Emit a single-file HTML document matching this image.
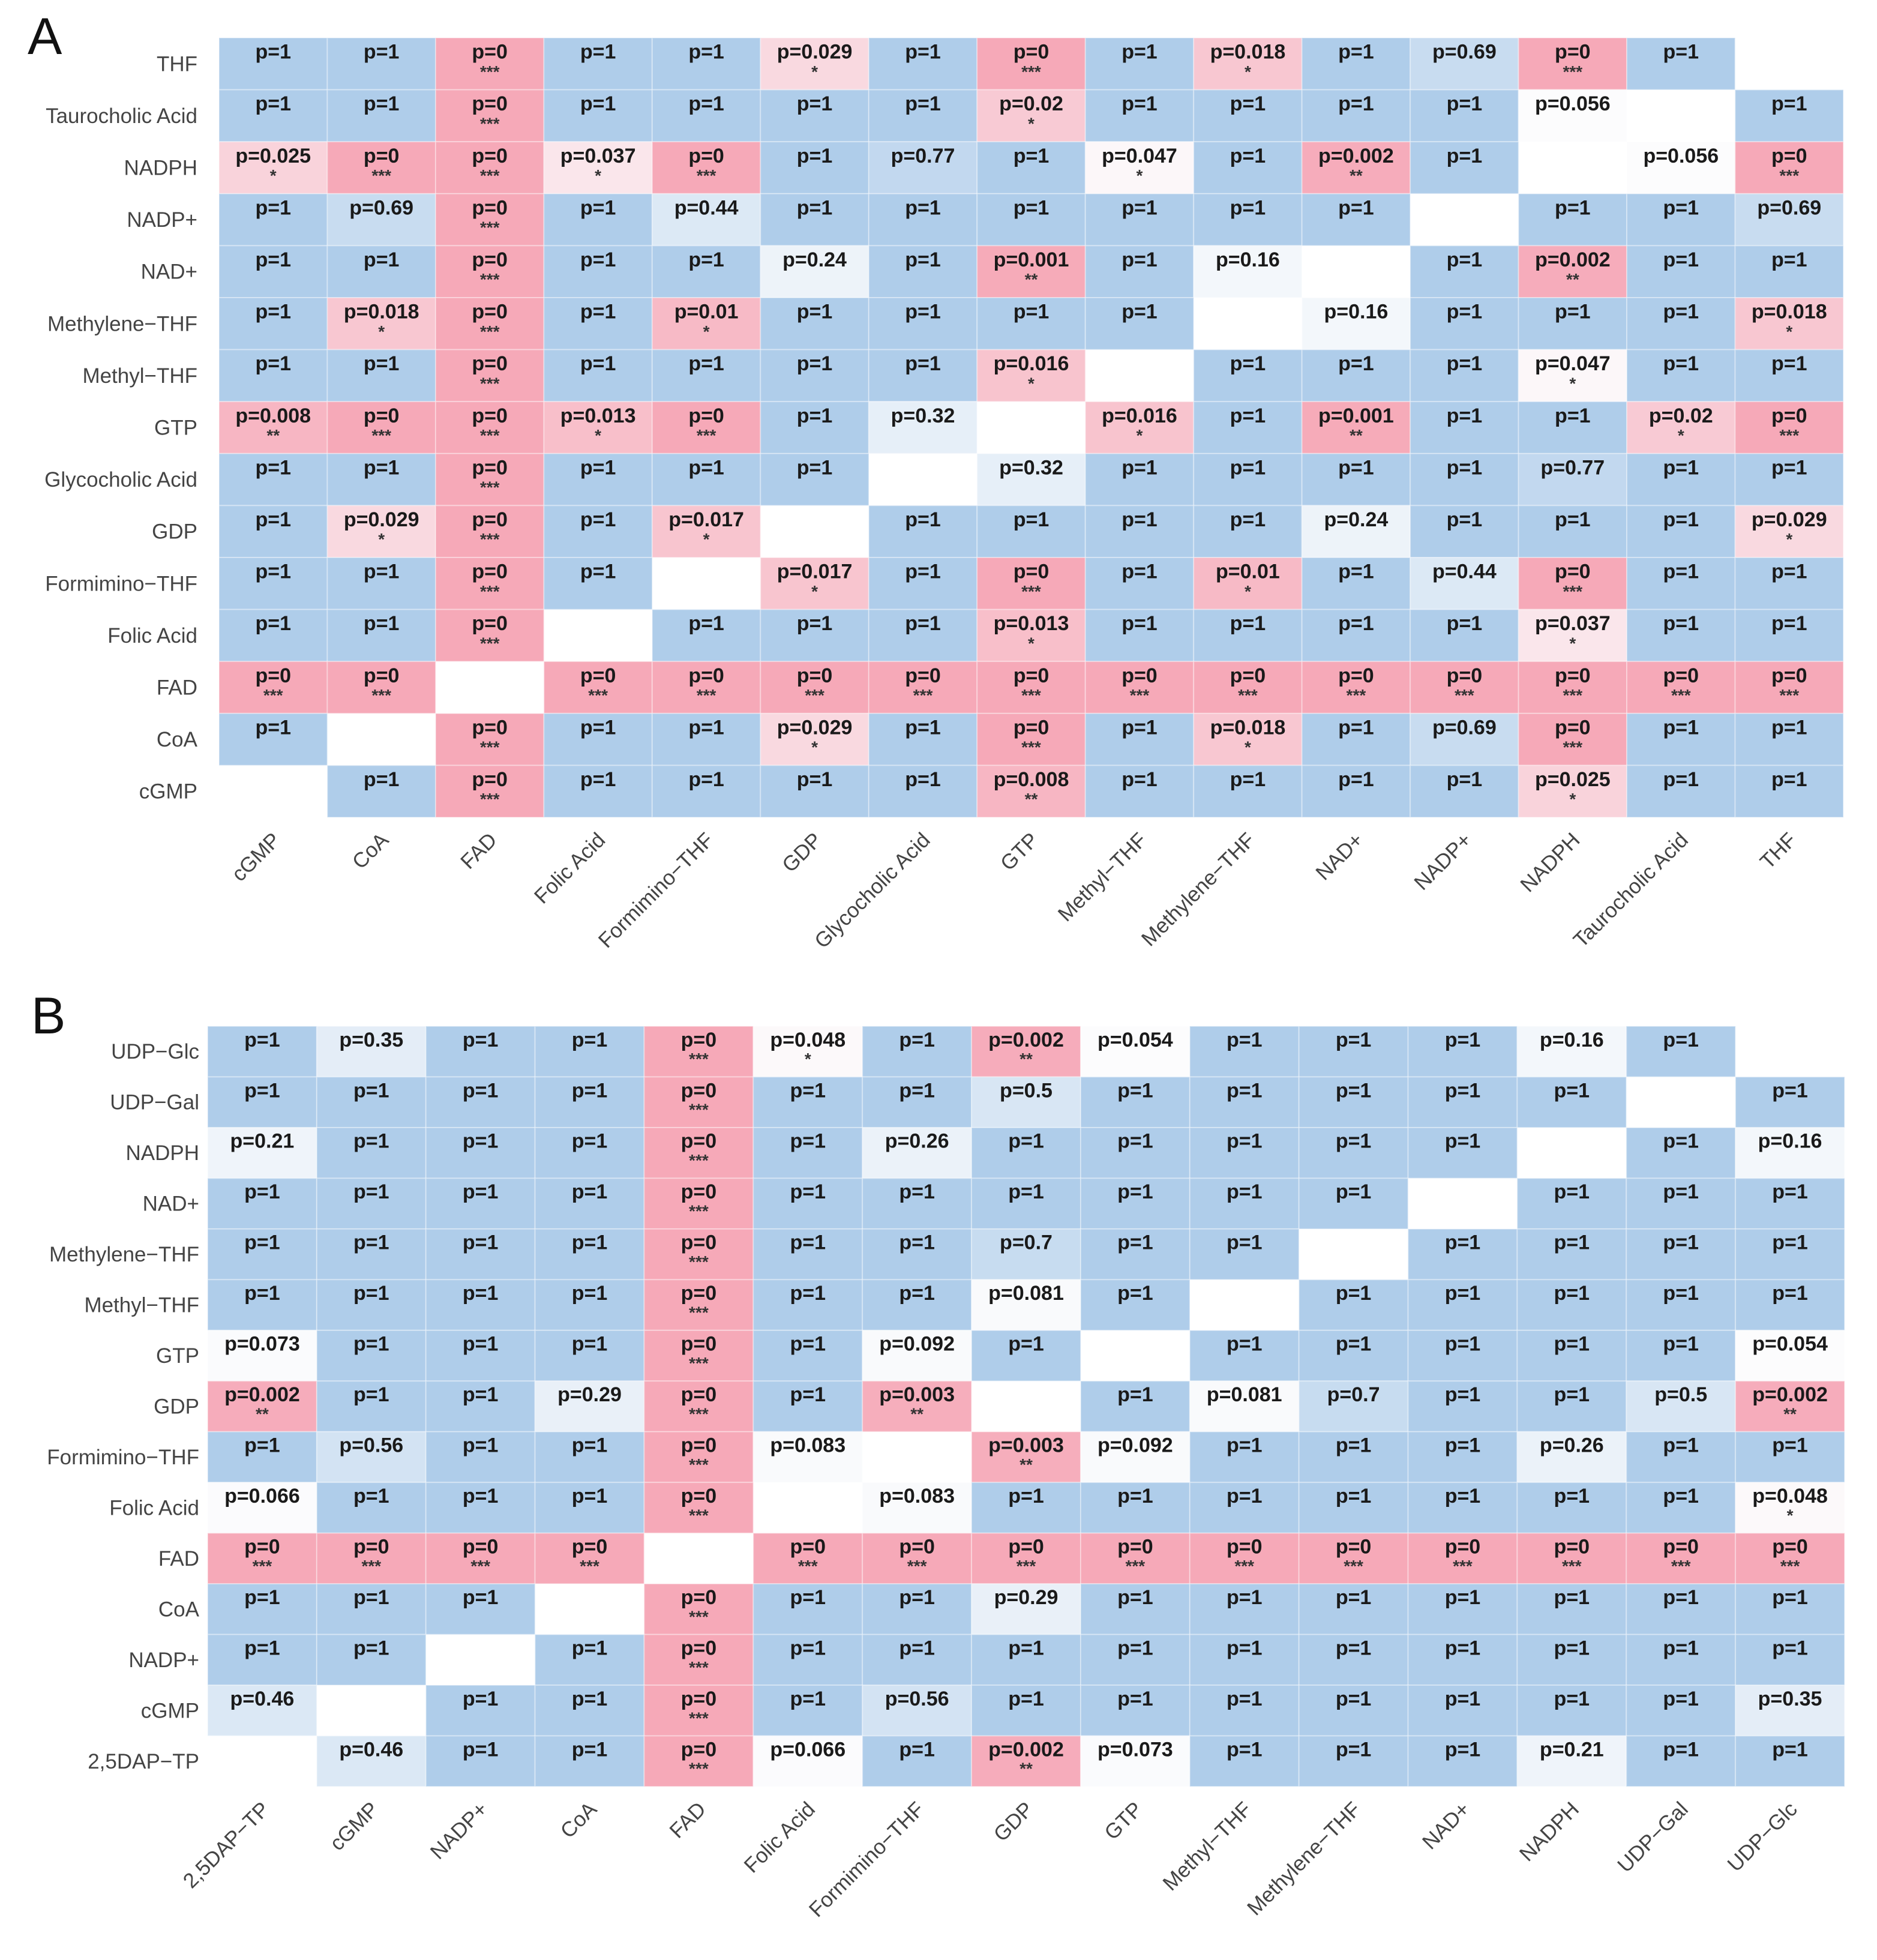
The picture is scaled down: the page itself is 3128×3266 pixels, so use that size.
<!DOCTYPE html>
<html><head><meta charset="utf-8"><style>
html,body{margin:0;padding:0;background:#fff;}
svg{display:block;}
</style></head>
<body>
<svg id="fig" width="3128" height="3266" viewBox="0 0 3128 3266" xmlns="http://www.w3.org/2000/svg">
<text x="46" y="90" font-family="Liberation Sans, sans-serif" font-size="86" fill="#111">A</text>
<text x="52" y="1722" font-family="Liberation Sans, sans-serif" font-size="86" fill="#111">B</text>
<g id="panelA"></g>
<g id="panelB"></g>
</svg>
<script>
const N = null;
const categoriesA = ["cGMP","CoA","FAD","Folic Acid","Formimino\u2212THF","GDP","Glycocholic Acid","GTP","Methyl\u2212THF","Methylene\u2212THF","NAD+","NADP+","NADPH","Taurocholic Acid","THF"];
const rowsA = ["THF","Taurocholic Acid","NADPH","NADP+","NAD+","Methylene\u2212THF","Methyl\u2212THF","GTP","Glycocholic Acid","GDP","Formimino\u2212THF","Folic Acid","FAD","CoA","cGMP"];
const pvalsA = [
[1,1,0,1,1,0.029,1,0,1,0.018,1,0.69,0,1,N],
[1,1,0,1,1,1,1,0.02,1,1,1,1,0.056,N,1],
[0.025,0,0,0.037,0,1,0.77,1,0.047,1,0.002,1,N,0.056,0],
[1,0.69,0,1,0.44,1,1,1,1,1,1,N,1,1,0.69],
[1,1,0,1,1,0.24,1,0.001,1,0.16,N,1,0.002,1,1],
[1,0.018,0,1,0.01,1,1,1,1,N,0.16,1,1,1,0.018],
[1,1,0,1,1,1,1,0.016,N,1,1,1,0.047,1,1],
[0.008,0,0,0.013,0,1,0.32,N,0.016,1,0.001,1,1,0.02,0],
[1,1,0,1,1,1,N,0.32,1,1,1,1,0.77,1,1],
[1,0.029,0,1,0.017,N,1,1,1,1,0.24,1,1,1,0.029],
[1,1,0,1,N,0.017,1,0,1,0.01,1,0.44,0,1,1],
[1,1,0,N,1,1,1,0.013,1,1,1,1,0.037,1,1],
[0,0,N,0,0,0,0,0,0,0,0,0,0,0,0],
[1,N,0,1,1,0.029,1,0,1,0.018,1,0.69,0,1,1],
[N,1,0,1,1,1,1,0.008,1,1,1,1,0.025,1,1]
];
const categoriesB = ["2,5DAP\u2212TP","cGMP","NADP+","CoA","FAD","Folic Acid","Formimino\u2212THF","GDP","GTP","Methyl\u2212THF","Methylene\u2212THF","NAD+","NADPH","UDP\u2212Gal","UDP\u2212Glc"];
const rowsB = ["UDP\u2212Glc","UDP\u2212Gal","NADPH","NAD+","Methylene\u2212THF","Methyl\u2212THF","GTP","GDP","Formimino\u2212THF","Folic Acid","FAD","CoA","NADP+","cGMP","2,5DAP\u2212TP"];
const pvalsB = [
[1,0.35,1,1,0,0.048,1,0.002,0.054,1,1,1,0.16,1,N],
[1,1,1,1,0,1,1,0.5,1,1,1,1,1,N,1],
[0.21,1,1,1,0,1,0.26,1,1,1,1,1,N,1,0.16],
[1,1,1,1,0,1,1,1,1,1,1,N,1,1,1],
[1,1,1,1,0,1,1,0.7,1,1,N,1,1,1,1],
[1,1,1,1,0,1,1,0.081,1,N,1,1,1,1,1],
[0.073,1,1,1,0,1,0.092,1,N,1,1,1,1,1,0.054],
[0.002,1,1,0.29,0,1,0.003,N,1,0.081,0.7,1,1,0.5,0.002],
[1,0.56,1,1,0,0.083,N,0.003,0.092,1,1,1,0.26,1,1],
[0.066,1,1,1,0,N,0.083,1,1,1,1,1,1,1,0.048],
[0,0,0,0,N,0,0,0,0,0,0,0,0,0,0],
[1,1,1,N,0,1,1,0.29,1,1,1,1,1,1,1],
[1,1,N,1,0,1,1,1,1,1,1,1,1,1,1],
[0.46,N,1,1,0,1,0.56,1,1,1,1,1,1,1,0.35],
[N,0.46,1,1,0,0.066,1,0.002,0.073,1,1,1,0.21,1,1]
];

const SVGNS = "http://www.w3.org/2000/svg";
function mix(a,b,t){return a.map((v,i)=>Math.round(v+(b[i]-v)*t));}
function colorFor(p){
  const white=[252,252,253], blue=[175,205,234], pink=[246,169,184];
  let c;
  if(p>=0.05){c=mix(white,blue,Math.min(1,(p-0.05)/0.95));}
  else {c=mix(white,pink,Math.min(1,(0.05-p)/0.05));}
  return "rgb("+c.join(",")+")";
}
function stars(p){ if(p<0.001) return "***"; if(p<0.01) return "**"; if(p<0.05) return "*"; return ""; }
function fmt(p){ return "p=" + String(p); }

function draw(gid, cats, rows, vals, box){
  const g = document.getElementById(gid);
  const nC = cats.length, nR = rows.length;
  const cw = (box.x1-box.x0)/nC, rh = (box.y1-box.y0)/nR;
  const xs = i => box.x0 + i*cw;
  const ys = j => box.y0 + j*rh;
  for(let j=0;j<nR;j++){
    for(let i=0;i<nC;i++){
      const p = vals[j][i];
      if(p===null) continue;
      const r = document.createElementNS(SVGNS,"rect");
      r.setAttribute("x", xs(i)); r.setAttribute("y", ys(j));
      r.setAttribute("width", cw); r.setAttribute("height", rh);
      r.setAttribute("fill", colorFor(p));
      r.setAttribute("stroke","#ffffff"); r.setAttribute("stroke-opacity","0.35"); r.setAttribute("stroke-width","2");
      
      
      g.appendChild(r);
      const t = document.createElementNS(SVGNS,"text");
      t.setAttribute("x", xs(i)+cw/2); t.setAttribute("y", ys(j)+rh*0.40);
      t.setAttribute("text-anchor","middle");
      t.setAttribute("font-family","Liberation Sans, sans-serif");
      t.setAttribute("font-size","34"); t.setAttribute("font-weight","bold");
      t.setAttribute("fill","#1a1a1a");
      t.textContent = fmt(p);
      
      
      g.appendChild(t);
      const s = stars(p);
      if(s){
        const st = document.createElementNS(SVGNS,"text");
        st.setAttribute("x", xs(i)+cw/2); st.setAttribute("y", ys(j)+rh*0.76);
        st.setAttribute("text-anchor","middle");
        st.setAttribute("font-family","Liberation Sans, sans-serif");
        st.setAttribute("font-size","28"); st.setAttribute("font-weight","bold");
        st.setAttribute("fill","#333");
        st.textContent = s;
        
        
        g.appendChild(st);
      }
    }
  }
  for(let j=0;j<nR;j++){
    const t = document.createElementNS(SVGNS,"text");
    t.setAttribute("x", box.x0 - box.labGap); t.setAttribute("y", ys(j)+rh/2+12);
    t.setAttribute("text-anchor","end");
    t.setAttribute("font-family","Liberation Sans, sans-serif");
    t.setAttribute("font-size","35"); t.setAttribute("fill","#444");
    t.textContent = rows[j];
    
    
    g.appendChild(t);
  }
  for(let i=0;i<nC;i++){
    const t = document.createElementNS(SVGNS,"text");
    const ax = xs(i)+cw/2+14, ay = box.y1+40;
    t.setAttribute("x", ax); t.setAttribute("y", ay);
    t.setAttribute("text-anchor","end");
    t.setAttribute("transform","rotate(-45 "+ax+" "+ay+")");
    t.setAttribute("font-family","Liberation Sans, sans-serif");
    t.setAttribute("font-size","35"); t.setAttribute("fill","#444");
    t.textContent = cats[i];
    
    
    g.appendChild(t);
  }
}
draw("panelA", categoriesA, rowsA, pvalsA, {x0:365,x1:3072,y0:63,y1:1362,labGap:36});
draw("panelB", categoriesB, rowsB, pvalsB, {x0:346,x1:3074,y0:1710,y1:2977,labGap:14});
</script>
</body></html>
